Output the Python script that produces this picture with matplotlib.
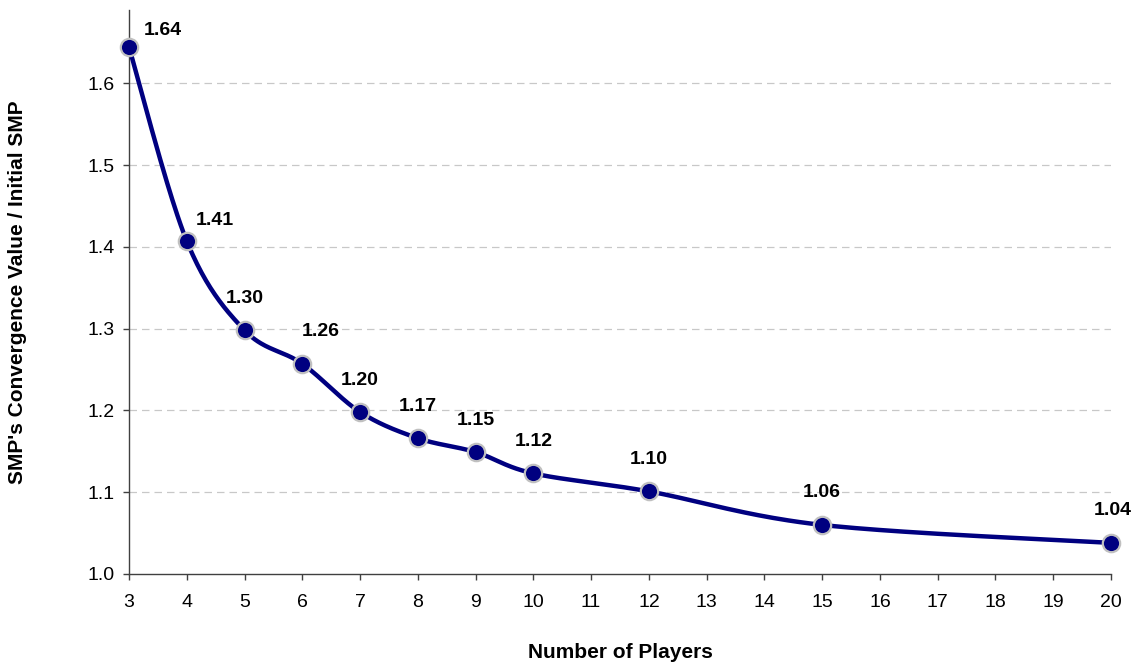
import numpy as np
import matplotlib
matplotlib.use("Agg")
import matplotlib.pyplot as plt

plt.rcParams['font.family'] = ['Liberation Sans', 'DejaVu Sans']

players = [3, 4, 5, 6, 7, 8, 9, 10, 12, 15, 20]
ratio = [1.644, 1.407, 1.298, 1.257, 1.198, 1.166, 1.149, 1.123, 1.101, 1.060, 1.038]
x_ticks = list(range(3, 21))
y_ticks = [1.0, 1.1, 1.2, 1.3, 1.4, 1.5, 1.6]

# label offsets in points (dx, dy) relative to each marker
label_offsets = [(24, 12), (20, 15), (0, 23), (13, 23), (0, 23), (0, 23),
                 (0, 23), (0, 23), (0, 23), (0, 23), (1, 23)]

NAVY = '#000080'


def smooth_curve(xs, ys, n=40):
    """Cubic Bezier smoothing through the points (Catmull-Rom style)."""
    pts = np.column_stack([np.asarray(xs, float), np.asarray(ys, float)])
    out = []
    m = len(pts)
    for i in range(m - 1):
        p0 = pts[i - 1] if i > 0 else pts[i]
        p1 = pts[i]
        p2 = pts[i + 1]
        p3 = pts[i + 2] if i + 2 < m else pts[i + 1]
        c1 = p1 + (p2 - p0) / 6.0
        c2 = p2 - (p3 - p1) / 6.0
        t = np.linspace(0, 1, n)[:, None]
        seg = ((1 - t) ** 3) * p1 + 3 * ((1 - t) ** 2) * t * c1 \
            + 3 * (1 - t) * t ** 2 * c2 + t ** 3 * p2
        if i > 0:
            seg = seg[1:]
        out.append(seg)
    curve = np.vstack(out)
    return curve[:, 0], curve[:, 1]


W, H = 1134, 666
fig = plt.figure(figsize=(W / 100, H / 100), dpi=100)
ax = fig.add_axes([129 / W, (H - 574) / H, (1111 - 129) / W, (574 - 10) / H])

ax.set_xlim(3, 20)
ax.set_ylim(1.0, 1.0 + 564 / 818)

sx, sy = smooth_curve(players, ratio)
ax.plot(sx, sy, color=NAVY, lw=3.2, solid_capstyle='round', zorder=3, clip_on=False)
ax.plot(players, ratio, linestyle='none', marker='o', markersize=12.5,
        markerfacecolor=NAVY, markeredgecolor='#c0c0c0', markeredgewidth=1.6,
        zorder=4, clip_on=False)

for x, y, (dx, dy) in zip(players, ratio, label_offsets):
    ax.annotate(f'{y:.2f}', (x, y), xytext=(dx, dy), textcoords='offset points',
                ha='center', va='center', fontsize=14, fontweight='bold',
                color='black', zorder=5)

ax.set_xticks(x_ticks)
ax.set_yticks(y_ticks)
ax.set_yticklabels([f'{v:.1f}' for v in y_ticks])
ax.tick_params(axis='both', direction='out', length=4.3, width=1, color='#404040',
               labelsize=14, labelcolor='black')
ax.tick_params(axis='x', pad=10)
ax.tick_params(axis='y', pad=6)

for v in y_ticks[1:]:
    ax.axhline(v, color='#c8c8c8', lw=0.9, dashes=(6, 4), zorder=1)

for side in ('top', 'right'):
    ax.spines[side].set_visible(False)
for side in ('left', 'bottom'):
    ax.spines[side].set_color('#404040')
    ax.spines[side].set_linewidth(1.0)

fig.text(129 / W + (1111 - 129) / W / 2, 1 - 652 / H, 'Number of Players',
         ha='center', va='center', fontsize=15, fontweight='bold')
fig.text(18 / W, 1 - 292 / H, "SMP's Convergence Value / Initial SMP",
         ha='center', va='center', rotation=90, fontsize=15, fontweight='bold')

fig.savefig('out.png', dpi=100)
